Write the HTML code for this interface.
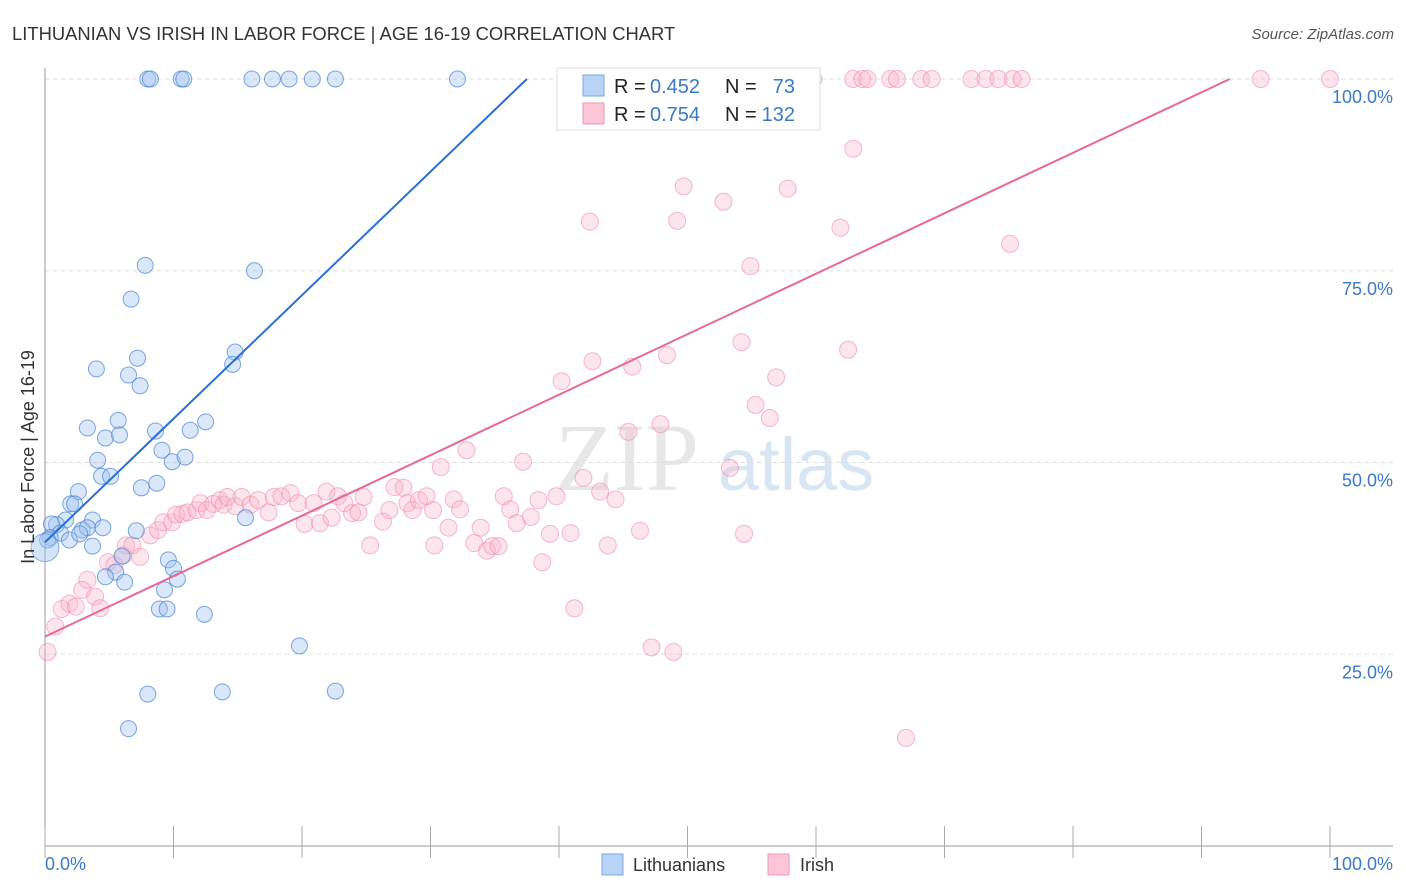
<!DOCTYPE html>
<html><head><meta charset="utf-8"><style>
body{margin:0;background:#fff;font-family:"Liberation Sans",sans-serif}
svg{display:block}
</style></head><body>
<svg id="chart" width="1406" height="892">
<text x="12" y="40" font-size="18.4" fill="#333">LITHUANIAN VS IRISH IN LABOR FORCE | AGE 16-19 CORRELATION CHART</text>
<text x="1394" y="39" font-size="15" fill="#555" text-anchor="end" font-style="italic">Source: ZipAtlas.com</text>
<text x="555" y="490" font-size="96" fill="#ddd" font-family="Liberation Serif" opacity="0.7">ZIP</text>
<text x="718" y="490" font-size="74" fill="#c8dcf0" opacity="0.7">atlas</text>
<g id="grid"></g><g id="axes"></g><g id="marks"></g><g id="lines"></g>
<text transform="translate(34,457) rotate(-90)" font-size="18" fill="#333" text-anchor="middle">In Labor Force | Age 16-19</text>
<text x="45" y="870" font-size="18" fill="#3a78c9">0.0%</text>
<text x="1393" y="870" font-size="18" fill="#3a78c9" text-anchor="end">100.0%</text>
<g>
<rect x="557" y="68" width="263" height="62" fill="#fff" stroke="#ddd"/>
<rect x="583" y="75" width="21" height="21" fill="#b8d3f5" stroke="#7aa7e0"/>
<rect x="583" y="103" width="21" height="21" fill="#fcc5d6" stroke="#ee98b5"/>
<text x="614" y="93" font-size="20" fill="#222">R =</text>
<text x="650" y="93" font-size="20" fill="#3a78c9">0.452</text>
<text x="725" y="93" font-size="20" fill="#222">N =</text>
<text x="795" y="93" font-size="20" fill="#3a78c9" text-anchor="end">73</text>
<text x="614" y="121" font-size="20" fill="#222">R =</text>
<text x="650" y="121" font-size="20" fill="#3a78c9">0.754</text>
<text x="725" y="121" font-size="20" fill="#222">N =</text>
<text x="795" y="121" font-size="20" fill="#3a78c9" text-anchor="end">132</text>
</g>
<g>
<rect x="602" y="854" width="21" height="21" fill="#b8d3f5" stroke="#7aa7e0"/>
<text x="633" y="871" font-size="18" fill="#333">Lithuanians</text>
<rect x="768" y="854" width="21" height="21" fill="#fcc5d6" stroke="#ee98b5"/>
<text x="800" y="871" font-size="18" fill="#333">Irish</text>
</g>
</svg>
<script>
const yTicks=[25,50,75,100];
const yTickLabels=["25.0%","50.0%","75.0%","100.0%"];
const xTicks=[0,10,20,30,40,50,60,70,80,90,100];
const blueFit=[[0,39.6],[37.5,100]];
const pinkFit=[[0,27.3],[92.2,100]];
const blueBig=[[0,38.9]];
const bluePts=[[8.0,100],[8.2,100],[10.6,100],[10.8,100],[16.1,100],[17.7,100],[19.0,100],[20.8,100],[22.6,100],[32.1,100],[7.8,75.7],[16.3,75.0],[6.7,71.3],[4.0,62.2],[7.2,63.6],[6.5,61.4],[7.4,60.0],[14.8,64.4],[14.6,62.8],[3.3,54.5],[5.7,55.5],[4.7,53.2],[5.8,53.6],[8.6,54.1],[11.3,54.2],[12.5,55.3],[4.1,50.3],[9.1,51.6],[9.9,50.1],[10.9,50.7],[4.4,48.2],[5.1,48.2],[7.5,46.7],[8.7,47.3],[2.6,46.2],[2.0,44.6],[2.3,44.6],[3.7,42.5],[1.6,42.5],[0.9,41.9],[0.5,42.0],[1.2,40.8],[1.9,39.9],[2.9,41.2],[3.3,41.5],[4.5,41.5],[2.7,40.7],[7.1,41.1],[15.6,42.8],[0.4,40.2],[0.2,39.9],[3.7,39.1],[6.0,37.8],[9.6,37.3],[10.0,36.2],[5.5,35.7],[4.7,35.1],[6.2,34.4],[10.3,34.8],[9.3,33.4],[8.9,30.9],[9.5,30.9],[12.4,30.2],[19.8,26.1],[8.0,19.8],[13.8,20.1],[22.6,20.2],[6.5,15.3]];
const pinkPts=[[0.2,25.3],[0.8,28.6],[1.3,30.9],[1.9,31.6],[2.4,31.2],[3.3,34.7],[2.9,33.4],[3.9,32.5],[4.3,31.0],[4.9,37.0],[5.4,36.6],[6.1,37.9],[6.3,39.2],[6.8,39.2],[7.4,37.7],[8.2,40.5],[8.8,41.2],[9.2,42.2],[9.9,42.2],[10.2,43.2],[10.7,43.3],[11.1,43.5],[11.8,43.8],[12.1,44.7],[12.6,43.8],[13.1,44.6],[13.6,45.1],[13.9,44.5],[14.2,45.5],[14.8,44.3],[15.3,45.5],[16.0,44.5],[16.6,45.1],[17.4,43.5],[17.8,45.5],[18.4,45.6],[19.1,46.0],[19.7,44.7],[20.2,42.0],[20.9,44.7],[21.4,42.1],[21.9,46.2],[22.3,42.8],[22.8,45.6],[23.3,44.7],[23.9,43.4],[24.4,43.5],[24.8,45.5],[25.3,39.2],[26.3,42.3],[26.8,43.8],[27.2,46.8],[27.9,46.7],[28.2,44.7],[28.6,43.8],[29.1,45.1],[29.7,45.6],[30.3,39.2],[30.2,43.8],[30.8,49.4],[31.4,41.5],[31.8,45.2],[32.3,43.9],[32.8,51.6],[33.4,39.5],[33.9,41.5],[34.4,38.5],[34.8,39.1],[35.3,39.1],[35.7,45.6],[36.2,43.9],[36.7,42.1],[37.2,50.1],[37.8,42.9],[38.4,45.1],[38.7,37.0],[39.3,40.7],[39.8,45.6],[40.2,60.6],[40.9,40.8],[41.2,31.0],[41.9,48.0],[42.6,63.2],[43.2,46.2],[43.8,39.2],[44.4,45.2],[45.4,54.0],[45.7,62.5],[46.3,41.1],[47.2,25.9],[47.9,55.0],[48.4,64.0],[48.9,25.3],[49.2,81.5],[49.7,86.0],[52.8,84.0],[54.2,65.7],[54.4,40.7],[54.9,75.6],[55.3,57.5],[56.4,55.8],[56.9,61.1],[57.8,85.7],[61.9,80.6],[62.5,64.7],[62.9,90.9],[67.0,14.1],[75.1,78.5],[53.3,49.3],[42.4,81.4],[47.5,100],[51.0,100],[52.3,100],[55.6,100],[59.8,100],[62.9,100],[63.6,100],[64.0,100],[65.8,100],[66.3,100],[68.2,100],[69.0,100],[72.1,100],[73.2,100],[74.2,100],[75.3,100],[76.0,100],[94.6,100],[100,100],[44.7,94.9]];

const NS="http://www.w3.org/2000/svg";
const X=v=>45+v*12.85;
const Y=v=>846-v*7.67;
function mk(tag,attrs,parent){const e=document.createElementNS(NS,tag);for(const k in attrs)e.setAttribute(k,attrs[k]);document.getElementById(parent).appendChild(e);return e;}
yTicks.forEach((t,i)=>{
  const g=mk('line',{x1:45,x2:1393,y1:Y(t),y2:Y(t),stroke:'#ddd','stroke-dasharray':'4,4'},'grid');
  
  
  const l=mk('text',{x:1393,y:Y(t)+24,'font-size':18,fill:'#3a78c9','text-anchor':'end'},'grid');
  l.textContent=yTickLabels[i];
  
  
});
const ya=mk('line',{x1:45,x2:45,y1:68,y2:846,stroke:'#999'},'axes');


const xa=mk('line',{x1:45,x2:1393,y1:846,y2:846,stroke:'#999'},'axes');


xTicks.forEach(t=>{
  const k=mk('line',{x1:X(t),x2:X(t),y1:826,y2:858,stroke:'#aaa'},'axes');
  
  
});
pinkPts.forEach(p=>{
  const c=mk('circle',{cx:X(p[0]),cy:Y(p[1]),r:8.5,fill:'rgba(248,180,202,0.35)',stroke:'rgba(236,140,172,0.6)'},'marks');
  
  
});
bluePts.forEach(p=>{
  const c=mk('circle',{cx:X(p[0]),cy:Y(p[1]),r:8,fill:'rgba(160,196,240,0.4)',stroke:'rgba(70,130,210,0.7)'},'marks');
  
  
});
blueBig.forEach(p=>{
  const c=mk('circle',{cx:X(p[0]),cy:Y(p[1]),r:14,fill:'rgba(160,196,240,0.45)',stroke:'rgba(70,130,210,0.6)'},'marks');
  
  
});
const bl=mk('line',{x1:X(blueFit[0][0]),y1:Y(blueFit[0][1]),x2:X(blueFit[1][0]),y2:Y(blueFit[1][1]),stroke:'#2a6fd6','stroke-width':2},'lines');


const pl=mk('line',{x1:X(pinkFit[0][0]),y1:Y(pinkFit[0][1]),x2:X(pinkFit[1][0]),y2:Y(pinkFit[1][1]),stroke:'#e8679a','stroke-width':2},'lines');


</script>
</body></html>
